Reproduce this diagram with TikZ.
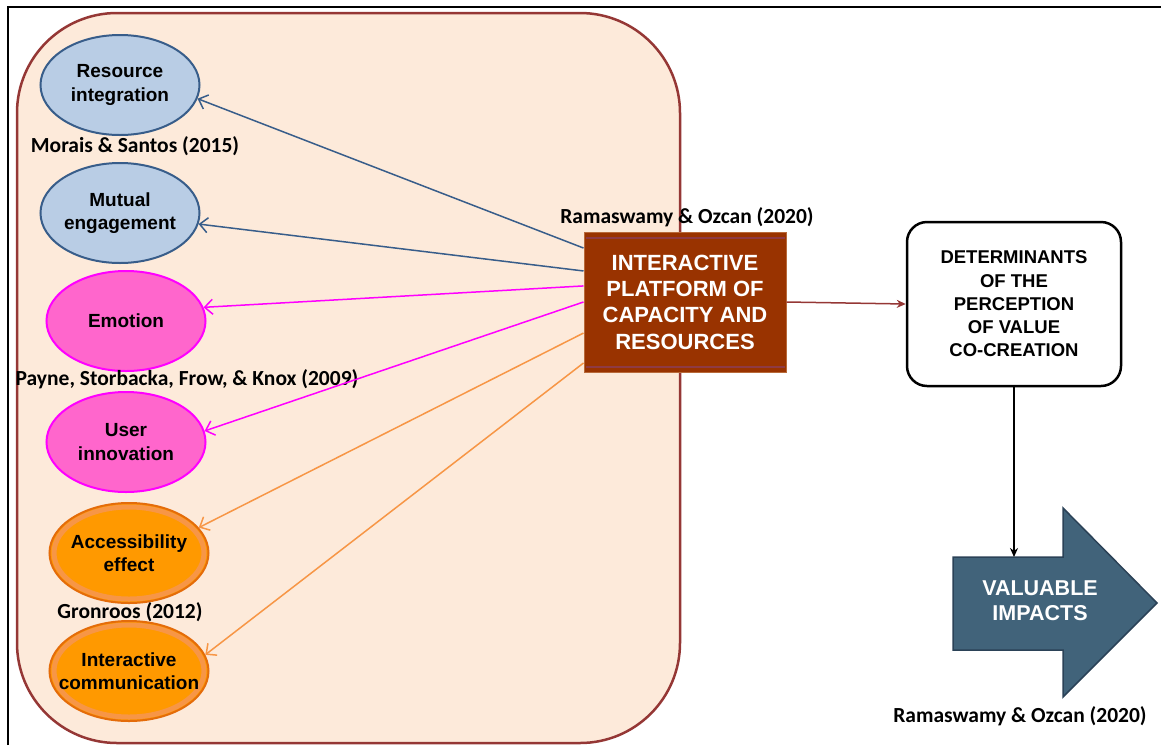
\documentclass[tikz,border=0pt]{standalone}
\usepackage{fontspec}
\setmainfont{Liberation Sans}
\newfontfamily\calib{Carlito}
\usetikzlibrary{shapes.geometric,arrows.meta}

\definecolor{peach}{HTML}{FDEADA}
\definecolor{peachline}{HTML}{953735}
\definecolor{bluefill}{HTML}{B9CDE5}
\definecolor{blueline}{HTML}{385D8A}
\definecolor{pinkfill}{HTML}{FF66CC}
\definecolor{pinkline}{HTML}{FF00FF}
\definecolor{orangefill}{HTML}{FF9900}
\definecolor{orangeline}{HTML}{E46C0A}
\definecolor{orangering}{HTML}{F79646}
\definecolor{orangearrow}{HTML}{F79646}
\definecolor{platfill}{HTML}{993300}
\definecolor{platline}{HTML}{B86A3A}
\definecolor{platstripe}{HTML}{8E3A44}
\definecolor{impactfill}{HTML}{41637A}
\definecolor{impactline}{HTML}{2B4257}

\newcommand\ellfont{\bfseries\fontsize{19}{23.5}\selectfont}
\newcommand\citefont{\calib\bfseries\fontsize{21.5}{24}\selectfont}

\begin{document}
\begin{tikzpicture}[x=1pt,y=-1pt,
	bubble/.style={ellipse, minimum width=159, minimum height=100, line width=2pt,
		align=center, font=\ellfont, inner xsep=-22pt, inner ysep=0pt},
	bluebubble/.style={bubble, fill=bluefill, draw=blueline},
	pinkbubble/.style={bubble, fill=pinkfill, draw=pinkline},
	orangebubble/.style={bubble, fill=orangefill, draw=orangeline,
		path picture={\draw[orangering, line width=5pt] (path picture bounding box.center) ellipse (75 and 46);}},
	source/.style={font=\citefont, inner sep=0pt},
	link/.style={line width=1.5pt, -{Straight Barb[length=8pt,width=15pt]}},
	flow/.style={line width=1.5pt, -{Stealth[length=9pt,width=8pt]}}]

	\useasboundingbox (0,0) rectangle (1161,745);

	% Frame
	\draw[line width=2pt] (8,745) -- (8,7) -- (1161,7);

	% Background panel
	\draw[line width=2.5pt, draw=peachline, fill=peach, rounded corners=100]
		(17,13) rectangle (680,743);

	% Ellipses
	\node[bluebubble] (res) at (120,85) {Resource\\integration};
	\node[bluebubble] (mut) at (120,213) {Mutual\\engagement};
	\node[pinkbubble] (emo) at (126,321) {Emotion};
	\node[pinkbubble] (usr) at (126,442) {User\\innovation};
	\node[orangebubble] (acc) at (129,553) {Accessibility\\effect};
	\node[orangebubble] (com) at (129,671) {Interactive\\communication};

	% Sources
	\node[source] (morais) at (135,146) {Morais \& Santos (2015)};
	\node[source] (payne) at (187,379) {Payne, Storbacka, Frow, \& Knox (2009)};
	\node[source] (gron) at (130,612) {Gronroos (2012)};
	\node[source] (rama1) at (687,217) {Ramaswamy \& Ozcan (2020)};
	\node[source] (rama2) at (1020,716) {Ramaswamy \& Ozcan (2020)};

	% Platform
	\node[fill=platfill, draw=platline, line width=1pt, minimum width=202, minimum height=140,
		text=white, align=center, font=\bfseries\fontsize{22}{26.3}\selectfont]
		(plat) at (685,302) {INTERACTIVE\\PLATFORM OF\\CAPACITY AND\\RESOURCES};
	\draw[platstripe, line width=2pt] ([xshift=2,yshift=-6]plat.north west) -- ([xshift=-2,yshift=-6]plat.north east);
	\draw[platstripe, line width=2pt] ([xshift=2,yshift=6]plat.south west) -- ([xshift=-2,yshift=6]plat.south east);

	% Determinants
	\node[draw, line width=2.5pt, rounded corners=20, minimum width=214, minimum height=164,
		align=center, font=\bfseries\fontsize{18.5}{23.3}\selectfont]
		(det) at (1014,304) {DETERMINANTS\\OF THE\\PERCEPTION\\OF VALUE\\CO-CREATION};

	% Valuable impacts
	\draw[fill=impactfill, draw=impactline, line width=1.5pt]
		(953,557) -- (1063,557) -- (1063,508) -- (1157,603) -- (1063,697) -- (1063,650) -- (953,650) -- cycle;
	\node[text=white, align=center, font=\bfseries\fontsize{21.5}{25}\selectfont]
		(val) at (1040,601) {VALUABLE\\IMPACTS};
	\coordinate (valtop) at (1014,557);

	% Links
	\draw[link, blueline] (plat.152) -- (res.-10);
	\draw[link, blueline] (plat.163) -- (mut.-8);
	\draw[link, pinkline] (plat.171) -- (emo.10);
	\draw[link, pinkline] (plat.180) -- (usr.8);
	\draw[link, orangearrow] (plat.197) -- (acc.20);
	\draw[link, orangearrow] (plat.211) -- (com.12);

	\draw[flow, peachline] (plat.east) -- (det.west);
	\draw[flow, black] (det.south) -- (valtop);

\end{tikzpicture}
\end{document}
